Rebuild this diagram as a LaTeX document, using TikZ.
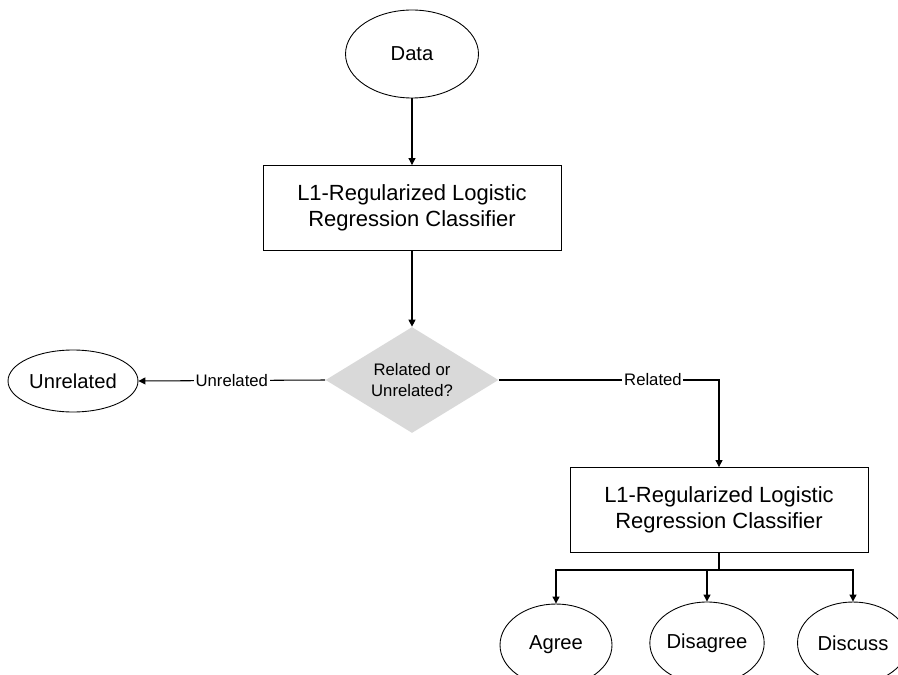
\documentclass[tikz,border=0pt]{standalone}
\usepackage{fontspec}
\setmainfont{Liberation Sans}
\usetikzlibrary{positioning}
\usetikzlibrary{shapes.geometric}
\usetikzlibrary{arrows.meta}

\begin{document}
\begin{tikzpicture}[
  x=0.02cm, y=-0.02cm,
  oval/.style={ellipse, draw, line width=0.5pt, inner sep=0pt, font=\fontsize{11.5}{13}\selectfont},
  box/.style={draw, line width=0.5pt, align=center, minimum width=5.96cm, minimum height=1.7cm, font=\fontsize{12.5}{14.7}\selectfont},
  decision/.style={diamond, fill=black!15, aspect=1.63, minimum width=3.46cm, minimum height=2.12cm, inner sep=0pt, align=center, font=\fontsize{9.5}{11.5}\selectfont},
  edge/.style={-{Triangle[length=4pt, width=4pt]}, line width=0.6pt},
  line/.style={line width=0.6pt},
  lbl/.style={fill=white, inner sep=1pt, font=\fontsize{9.5}{11}\selectfont}
]
\useasboundingbox (0,0) rectangle (898,675);
\clip (0,0) rectangle (898,675);

% nodes
\node[oval, minimum width=2.66cm, minimum height=1.76cm] (data) at (412,54) {Data};
\node[box] (clf1) at (412,208) {L1-Regularized Logistic\\Regression Classifier};
\node[decision] (dec) at (412,380) {Related or\\Unrelated?};
\node[oval, minimum width=2.6cm, minimum height=1.24cm] (unrel) at (73,381) {Unrelated};
\node[box] (clf2) at (719,510) {L1-Regularized Logistic\\Regression Classifier};
\node[oval, minimum width=2.24cm, minimum height=1.64cm] (agree) at (556,645) {Agree};
\node[oval, minimum width=2.22cm, minimum height=1.64cm] (disagree) at (707,643) {Disagree};
\node[oval, minimum width=2.22cm, minimum height=1.64cm] (discuss) at (853,643) {Discuss};
\coordinate (fork) at (719,570);

% connectors
\draw[edge] (data) -- (clf1);
\draw[edge] (clf1) -- (dec);
\draw[edge] (dec.west) -- node[lbl]{Unrelated} (unrel.east);
\draw[edge] (dec.east) -| node[lbl, pos=0.35]{Related} (clf2.north);

% second stage
\draw[line] (clf2.south) -- (fork);
\draw[edge] (fork) -| (agree.north);
\draw[edge] (fork) -| (discuss.north);
\draw[edge] (fork -| disagree.north) -- (disagree.north);
\end{tikzpicture}
\end{document}
